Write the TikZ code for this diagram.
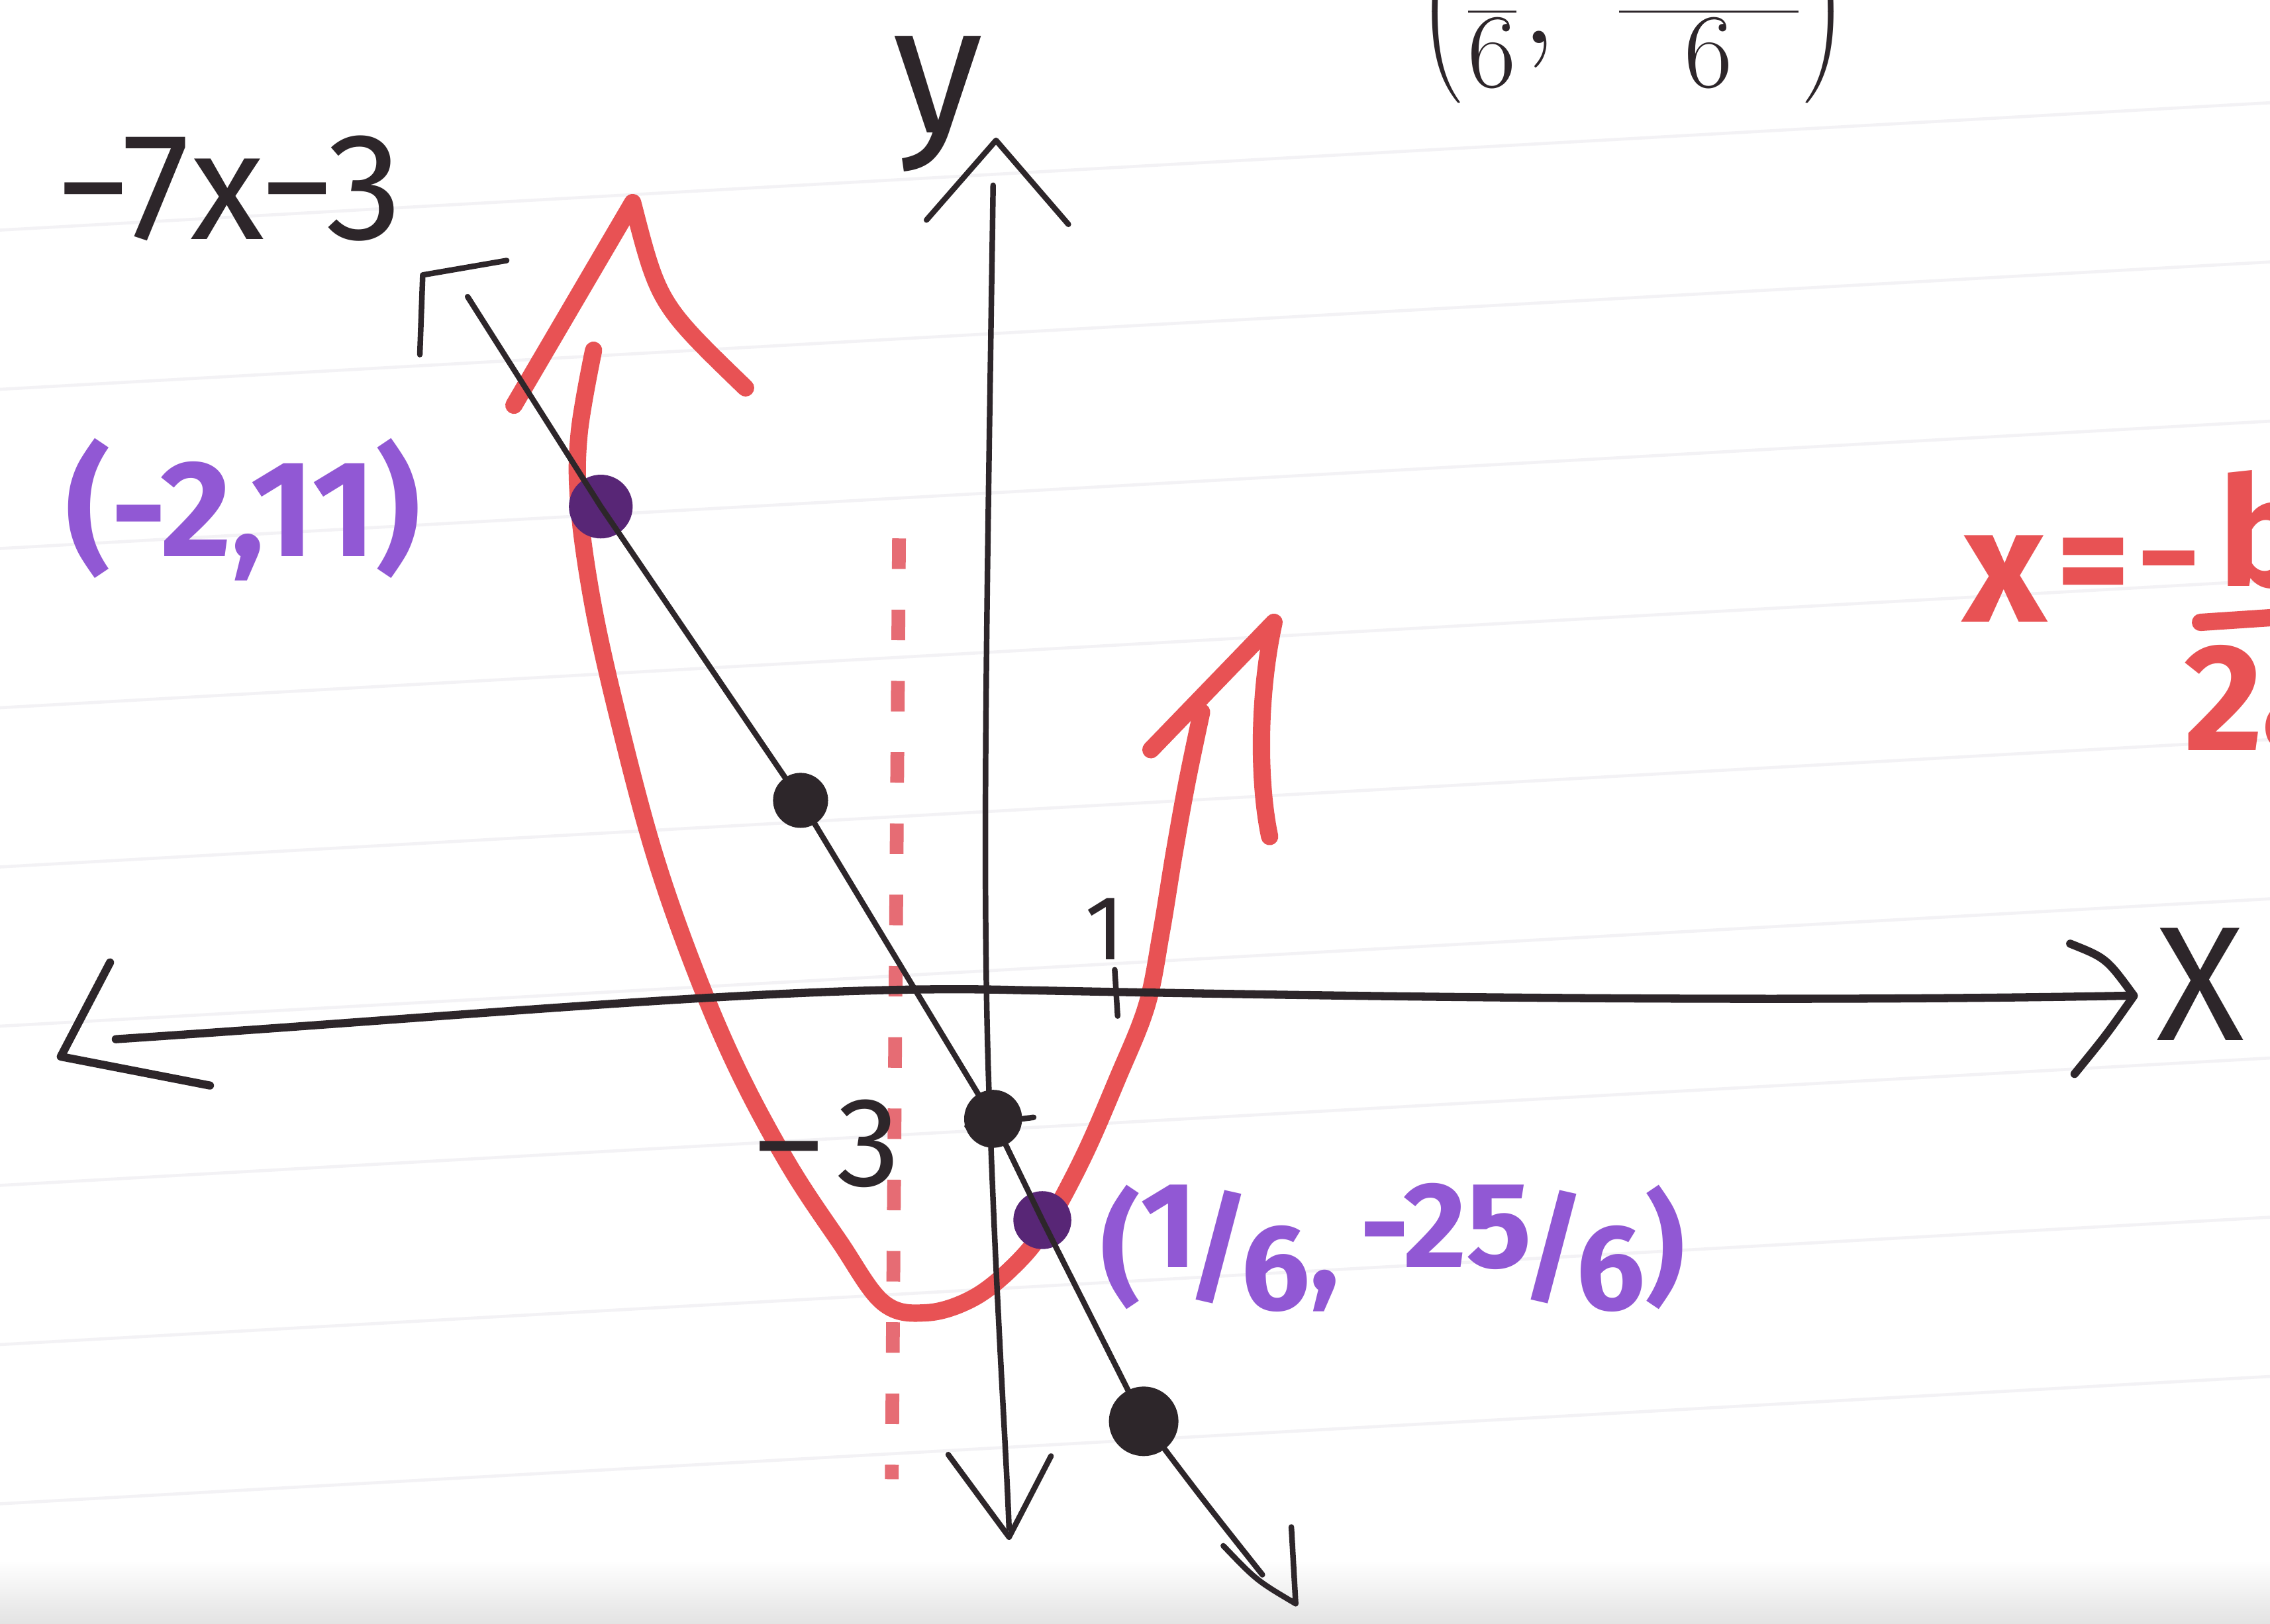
\documentclass[tikz,border=0pt]{standalone}
\usepackage{fontspec}
\setmainfont{Fira Sans}
\usetikzlibrary{calc}
\definecolor{ink}{RGB}{45,38,42}
\definecolor{redink}{RGB}{232,82,84}
\definecolor{dashred}{RGB}{230,108,116}
\definecolor{purpink}{RGB}{145,88,212}
\definecolor{purpdot}{RGB}{88,38,118}
\definecolor{ruleline}{RGB}{243,242,245}
\newcommand{\slfrac}[2]{\raisebox{0.35ex}{#1}\kern-0.08em/\kern-0.08em\raisebox{-0.3ex}{#2}}
\tikzset{
  axisline/.style={draw=ink, line width=1.6pt, line cap=round, line join=round},
  graphline/.style={draw=ink, line width=1.1pt, line cap=round, line join=round},
  redcurve/.style={draw=redink, line width=3.4pt, line cap=round, line join=round},
  dashline/.style={draw=dashred, line width=2.7pt, dash pattern=on 6pt off 8pt},
  inkdot/.style={circle, fill=ink, inner sep=0pt},
  purpledot/.style={circle, fill=purpdot, inner sep=0pt},
  inktext/.style={text=ink, inner sep=0pt},
  purptext/.style={text=purpink, inner sep=0pt, font=\bfseries\fontsize{25}{27}\selectfont},
  redtext/.style={text=redink, inner sep=0pt, font=\bfseries\fontsize{32}{34}\selectfont}
}
\begin{document}
\begin{tikzpicture}[x=0.01cm,y=-0.01cm]
\useasboundingbox (0,0) rectangle (1568,1122);
\clip (0,0) rectangle (1568,1122);
\fill[white] (0,0) rectangle (1568,1122);
% faint ruled paper lines
\foreach \yy in {159,269,379,489,599,709,819,929,1039}
  \draw[ruleline, line width=0.6pt] (0,\yy) -- (1568,\yy-88);
\shade[top color=white, bottom color=gray!22] (0,1078) rectangle (1568,1122);

% ---- coordinates ----
\coordinate (xL) at (80,718);
\coordinate (xR) at (1468,688);
\coordinate (xLtip) at (42,730);
\coordinate (xLb1) at (76,665);
\coordinate (xLb2) at (145,750);
\coordinate (xRtip) at (1474,688);
\coordinate (xRb1) at (1430,652);
\coordinate (xRb2) at (1433,742);
\coordinate (yT) at (686,128);
\coordinate (yB) at (697,1056);
\coordinate (yTtip) at (688,97);
\coordinate (yTb1) at (640,152);
\coordinate (yTb2) at (738,155);
\coordinate (yBtip) at (697,1062);
\coordinate (yBb1) at (655,1005);
\coordinate (yBb2) at (726,1006);
\coordinate (Ltop) at (323,205);
\coordinate (Gcorner) at (292,190);
\coordinate (Gbar) at (350,180);
\coordinate (Gleg) at (290,245);
\coordinate (Lend) at (872,1088);
\coordinate (Ltip) at (895,1108);
\coordinate (Lb1) at (845,1068);
\coordinate (Lb2) at (892,1055);
\coordinate (PLtip) at (437,140);
\coordinate (PLb1) at (355,280);
\coordinate (PLb2) at (515,268);
\coordinate (PRtip) at (880,430);
\coordinate (PRb1) at (795,518);
\coordinate (PRb2) at (877,578);
\coordinate (axT) at (621,372);
\coordinate (axB) at (616,1022);

% ---- symmetry axis (dashed) ----
\draw[dashline] (axT) -- (axB);

% ---- parabola ----
\draw[redcurve] plot[smooth, tension=0.6] coordinates {(410,242) (400,300) (400,350) (410,420) (428,500) (452,590) (480,670) (510,740) (545,805) (580,858) (610,900) (640,907) (672,897) (700,875) (722,848) (748,800) (772,745) (792,695) (802,645) (811,590) (820,540) (830,492)};
\draw[redcurve] (PLb1) -- (PLtip) .. controls (455,210) .. (PLb2);
\draw[redcurve] (PRb1) -- (PRtip) .. controls (869,480) and (869,540) .. (PRb2);

% ---- axes ----
\draw[axisline] (xL) .. controls (350,700) and (550,680) .. (700,684) .. controls (1000,690) and (1250,692) .. (xR);
\draw[axisline] (xLb1) -- (xLtip) -- (xLb2);
\draw[axisline] (xRb1) .. controls (1455,662) .. (xRtip) .. controls (1455,715) .. (xRb2);
\draw[graphline] (yT) .. controls (682,400) and (678,600) .. (683,750) .. controls (688,900) and (695,1000) .. (yB);
\draw[graphline] (yTb1) -- (yTtip) -- (yTb2);
\draw[graphline] (yBb1) -- (yBtip) -- (yBb2);

% ticks
\coordinate (tk1a) at (770,670);
\coordinate (tk1b) at (772,702);
\draw[graphline] (tk1a) -- (tk1b);
\coordinate (tk3a) at (668,778);
\coordinate (tk3b) at (714,772);
\draw[graphline] (tk3a) -- (tk3b);

% ---- dots ----
\node[purpledot, minimum size=0.44cm] (pA) at (415,350) {};
\node[inkdot, minimum size=0.38cm] (dB) at (553,553) {};
\node[inkdot, minimum size=0.40cm] (dC) at (686,773) {};
\node[purpledot, minimum size=0.40cm] (pD) at (720,843) {};
\node[inkdot, minimum size=0.48cm] (dE) at (790,982) {};

% ---- line y = -7x - 3 ----
\draw[graphline] (Ltop) -- (pA.center) -- (dB.center) -- (dC.center) -- (pD.center) -- (dE.center) .. controls (830,1035) .. (Lend);
\draw[graphline] (Gleg) -- (Gcorner) -- (Gbar);
\draw[graphline] (Lb1) .. controls (868,1092) .. (Ltip) -- (Lb2);

% ---- labels ----
\node[inktext, font=\fontsize{30}{32}\selectfont] (eq) at (158,130) {−7x−3};
\node[inktext, font=\fontsize{36}{38}\selectfont] (ylab) at (648,72) {y};
\node[inktext, font=\fontsize{32}{34}\selectfont] (xlab) at (1520,680) {X};
\node[inktext, font=\fontsize{18}{20}\selectfont] (one) at (763,642) {1};
\node[inktext, font=\fontsize{25}{27}\selectfont] (mthree) at (572,790) {–\kern0.12em3};
\node[purptext, font=\bfseries\fontsize{27}{29}\selectfont] (lblA) at (168,352) {(-2,11)};
\node[purptext, font=\bfseries\fontsize{24}{26}\selectfont] (lblD) at (962,862) {(\slfrac{1}{6},\,\slfrac{-25}{6})};
\node[inktext, font=\fontsize{30}{32}\selectfont, anchor=south] (topfrac) at (1128,72) {$\left(\frac{1}{6},\;\frac{-25}{6}\right)$};
\node[redtext] (vx) at (1385,400) {x};
\node[redtext, font=\bfseries\fontsize{28}{30}\selectfont] (veq) at (1446,396) {=};
\node[redtext, font=\bfseries\fontsize{24}{26}\selectfont] (vminus) at (1498,397) {−};
\node[redtext, font=\bfseries\fontsize{30}{32}\selectfont, anchor=west] (vb) at (1532,366) {b};
\node[redtext, font=\bfseries\fontsize{30}{32}\selectfont, anchor=west] (v2a) at (1508,483) {2a};
\draw[redcurve] (1520,430) -- (1580,426);
\end{tikzpicture}
\end{document}
